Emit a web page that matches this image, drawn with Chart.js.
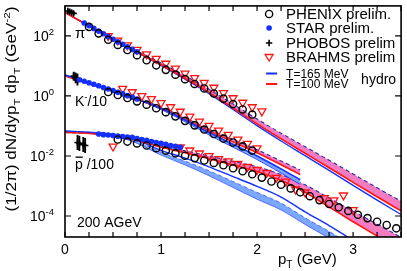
<!DOCTYPE html>
<html>
<head>
<meta charset="utf-8">
<script src="https://cdn.jsdelivr.net/npm/chart.js@4.4.0/dist/chart.umd.min.js"></script>
<style>
  html, body { margin: 0; padding: 0; background: #fff; }
</style>
</head>
<body>
<canvas id="myChart" width="407" height="271"></canvas>
<script>
// all spectra values as log10 of (1/2pi) dN/dy pT dpT
const hydroPt = [0, 0.25, 0.5, 0.75, 1, 1.25, 1.5, 1.75, 2, 2.25, 2.5, 2.75, 3, 3.25, 3.5];
const kaonPt = [0, 0.25, 0.5, 0.75, 1, 1.25, 1.5, 1.75, 2, 2.25, 2.45];
const pbar165Pt = [0, 0.25, 0.5, 0.75, 1, 1.25, 1.5, 1.75, 2, 2.25, 2.5, 2.75, 3];

const piT100 = [2.78, 2.33, 1.88, 1.46, 1.04, 0.59, 0.12, -0.40, -0.93, -1.43, -1.91, -2.39, -2.88, -3.36, -3.83];
const piT100Up = [2.78, 2.34, 1.90, 1.50, 1.10, 0.67, 0.22, -0.27, -0.77, -1.24, -1.69, -2.14, -2.60, -3.06, -3.51];
const piT165 = [2.78, 2.33, 1.88, 1.45, 1.02, 0.56, 0.08, -0.45, -0.99, -1.50, -1.99, -2.48, -2.98, -3.47, -3.95];

const kT165 = [0.70, 0.44, 0.18, -0.10, -0.41, -0.80, -1.22, -1.61, -2.00, -2.43, -2.79];
const kT165Low = [0.70, 0.44, 0.17, -0.12, -0.45, -0.86, -1.30, -1.71, -2.12, -2.57, -2.95];
const kT100 = [0.67, 0.41, 0.16, -0.11, -0.41, -0.78, -1.17, -1.53, -1.89, -2.29, -2.62];
const kT100Up = [0.67, 0.42, 0.18, -0.08, -0.37, -0.73, -1.11, -1.45, -1.79, -2.17, -2.47];

const pT100 = [-1.22, -1.25, -1.34, -1.48, -1.71, -1.89, -2.09, -2.30, -2.52, -2.82, -3.21, -3.70, -4.19, -4.67, -5.16];
const pT100Up = [-1.22, -1.25, -1.33, -1.46, -1.67, -1.83, -2.00, -2.18, -2.36, -2.62, -2.96, -3.40, -3.84, -4.27, -4.71];
const pT165 = [-1.17, -1.21, -1.29, -1.48, -1.81, -2.07, -2.36, -2.69, -3.01, -3.37, -3.86, -4.32, -4.81];
const pT165BandTop = [-1.17, -1.21, -1.29, -1.52, -1.87, -2.17, -2.49, -2.85, -3.21, -3.57, -4.06, -4.51, -5.00];
const pT165BandLow = [-1.17, -1.21, -1.32, -1.58, -1.97, -2.30, -2.66, -3.05, -3.44, -3.80, -4.28, -4.74, -5.23];

// PHENIX
const phenixPiPt = [0.25, 0.35, 0.45, 0.55, 0.65, 0.75, 0.85, 0.95, 1.05, 1.15, 1.25, 1.35, 1.45, 1.55, 1.65, 1.75, 1.85, 1.95];
const phenixPi = [2.30, 2.085, 1.87, 1.70, 1.53, 1.36, 1.19, 1.02, 0.87, 0.71, 0.56, 0.40, 0.25, 0.08, -0.09, -0.27, -0.45, -0.62];
const phenixKPt = [0.45, 0.55, 0.65, 0.75, 0.85, 0.95, 1.05, 1.15, 1.25, 1.35, 1.45, 1.55, 1.65, 1.75, 1.85, 1.95];
const phenixK = [0.13, 0.03, -0.07, -0.18, -0.29, -0.41, -0.54, -0.68, -0.83, -0.98, -1.12, -1.27, -1.42, -1.55, -1.68, -1.82];
const phenixPbarPt = [0.55, 0.65, 0.75, 0.85, 0.95, 1.05, 1.15, 1.25, 1.35, 1.45, 1.55, 1.65, 1.75, 1.85, 1.95,
  2.05, 2.15, 2.25, 2.35, 2.45, 2.55, 2.65, 2.75, 2.85, 2.95, 3.05, 3.15, 3.25, 3.35, 3.45];
const phenixPbar = [-1.45, -1.52, -1.58, -1.65, -1.74, -1.82, -1.91, -1.99, -2.07, -2.15, -2.23, -2.31, -2.41, -2.51, -2.61,
  -2.72, -2.85, -2.96, -3.08, -3.21, -3.34, -3.47, -3.60, -3.71, -3.83, -3.96, -4.07, -4.19, -4.30, -4.41];

// STAR
const starPiPt = [0.2, 0.25, 0.3, 0.35, 0.4, 0.45, 0.5, 0.55, 0.6, 0.65, 0.7, 0.75];
const starPi = [2.43, 2.34, 2.25, 2.16, 2.07, 1.98, 1.89, 1.80, 1.72, 1.64, 1.55, 1.47];
const starKPt = [0.15, 0.2, 0.25, 0.3, 0.35, 0.4, 0.45, 0.5, 0.55, 0.6, 0.65, 0.7, 0.75];
const starK = [0.54, 0.49, 0.44, 0.39, 0.34, 0.28, 0.23, 0.18, 0.12, 0.07, 0.01, -0.04, -0.10];
const starPbarPt = [0.35, 0.4, 0.45, 0.5, 0.55, 0.6, 0.65, 0.7, 0.75, 0.8, 0.85, 0.9, 0.95, 1.0, 1.05, 1.1, 1.15, 1.2];
const starPbar = [-1.27, -1.29, -1.30, -1.32, -1.34, -1.35, -1.37, -1.38, -1.42, -1.45, -1.48, -1.52, -1.55, -1.58, -1.61, -1.65, -1.68, -1.71];

// BRAHMS
const brahmsPiPt = [0.45, 0.55, 0.65, 0.75, 0.85, 0.95, 1.05, 1.15, 1.25, 1.35, 1.45, 1.55, 1.65, 1.75, 1.85, 1.95, 2.05];
const brahmsPi = [2.00, 1.85, 1.69, 1.54, 1.39, 1.24, 1.08, 0.92, 0.75, 0.60, 0.44, 0.28, 0.10, -0.07, -0.22, -0.37, -0.51];
const brahmsKPt = [0.6, 0.7, 0.8, 0.9, 1.0, 1.1, 1.2, 1.3, 1.4, 1.5, 1.6, 1.7, 1.8, 1.9, 2.0];
const brahmsK = [0.24, 0.13, 0.00, -0.10, -0.23, -0.37, -0.52, -0.68, -0.85, -0.99, -1.15, -1.29, -1.45, -1.59, -1.74];
const brahmsPbarPt = [0.5, 1.2, 1.3, 1.4, 1.5, 1.6, 1.7, 1.8, 1.9, 2.0, 2.1, 2.2, 2.3, 2.4, 2.5, 2.7, 2.8, 2.9, 3.0];
const brahmsPbar = [-1.68, -1.71, -1.81, -1.91, -2.00, -2.10, -2.17, -2.26, -2.36, -2.46, -2.56, -2.72, -2.85, -3.11, -3.21, -3.40, -3.47, -3.31, -3.80];

// PHOBOS (value and half error, in decades)
const phobosPt = [0.03, 0.05, 0.07, 0.09, 0.09, 0.11, 0.13, 0.13, 0.15, 0.19, 0.21];
const phobos = [2.83, 2.81, 2.78, 2.75, 0.66, 0.60, 0.55, -1.55, -1.58, -1.62, -1.65];
const phobosErr = [0.06, 0.06, 0.06, 0.06, 0.15, 0.18, 0.20, 0.25, 0.25, 0.25, 0.25];

const yTickVals = [1e-4, 1e-2, 1, 1e2];
const yTickExp = ['-4', '-2', '0', '2'];

const FONT = '"Liberation Sans", Arial, Helvetica, sans-serif';
const RED = '#ff1414', BLUE = '#1430ff', PINK = '#f27cbf', LIGHTBLUE = '#7ba7ff', DASH = '#2b2ba8';

function pts(xs, logs) {
  return xs.map((x, i) => ({ x: x, y: Math.pow(10, logs[i]) }));
}

const datasets = [];
function add(d) { datasets.push(d); return datasets.length - 1; }

// data points
const phenixStyle = { pointStyle: 'circle', pointRadius: 3.6, pointBorderWidth: 1.4, pointBorderColor: '#000', pointBackgroundColor: 'rgba(255,255,255,0)', order: 0 };
const starStyle = { pointStyle: 'circle', pointRadius: 2.8, pointBorderWidth: 0, pointBorderColor: BLUE, pointBackgroundColor: BLUE, order: 0 };
const brahmsStyle = { pointStyle: 'triangle', pointRotation: 180, pointRadius: 4.6, pointBorderWidth: 1.3, pointBorderColor: RED, pointBackgroundColor: 'rgba(255,255,255,0)', order: 0 };

add(Object.assign({ data: pts(phenixPiPt, phenixPi) }, phenixStyle));
add(Object.assign({ data: pts(phenixKPt, phenixK) }, phenixStyle));
add(Object.assign({ data: pts(phenixPbarPt, phenixPbar) }, phenixStyle));
add(Object.assign({ data: pts(starPiPt, starPi) }, starStyle));
add(Object.assign({ data: pts(starKPt, starK) }, starStyle));
add(Object.assign({ data: pts(starPbarPt, starPbar) }, starStyle));
add(Object.assign({ data: pts(brahmsPiPt, brahmsPi) }, brahmsStyle));
add(Object.assign({ data: pts(brahmsKPt, brahmsK) }, brahmsStyle));
add(Object.assign({ data: pts(brahmsPbarPt, brahmsPbar) }, brahmsStyle));

add({ data: pts(phobosPt, phobos), pointStyle: 'cross', pointRadius: 3.2, pointBorderWidth: 1.6, pointBorderColor: '#000', order: 0 });
const phobosBars = [];
phobosPt.forEach((x, i) => {
  phobosBars.push({ x: x, y: Math.pow(10, phobos[i] - phobosErr[i]) });
  phobosBars.push({ x: x, y: Math.pow(10, phobos[i] + phobosErr[i]) });
  phobosBars.push({ x: x, y: null });
});
add({ data: phobosBars, showLine: true, spanGaps: false, pointRadius: 0, borderColor: '#000', borderWidth: 1.8, order: 0 });

// hydro curves
function curve(xs, logs, color, width, order, extra) {
  return add(Object.assign({
    data: pts(xs, logs), showLine: true, pointRadius: 0, borderColor: color, borderWidth: width,
    cubicInterpolationMode: 'monotone', fill: false, order: order
  }, extra || {}));
}

// pions
const piRed = curve(hydroPt, piT100, RED, 1.6, 1);
curve(hydroPt, piT100Up, DASH, 1.1, 2, { borderDash: [4, 3], fill: piRed, backgroundColor: PINK });
curve(hydroPt, piT165, BLUE, 1.4, 1);

// kaons
const kBlue = curve(kaonPt, kT165, BLUE, 1.6, 1);
curve(kaonPt, kT165Low, BLUE, 0.8, 2, { fill: kBlue, backgroundColor: LIGHTBLUE });
const kRed = curve(kaonPt, kT100, RED, 1.6, 1);
curve(kaonPt, kT100Up, DASH, 1.1, 2, { borderDash: [4, 3], fill: kRed, backgroundColor: PINK });

// antiprotons
const pRed = curve(hydroPt, pT100, RED, 1.6, 1);
curve(hydroPt, pT100Up, DASH, 1.1, 2, { borderDash: [4, 3], fill: pRed, backgroundColor: PINK });
curve(pbar165Pt, pT165, BLUE, 1.4, 1);
const pBandLow = curve(pbar165Pt, pT165BandLow, BLUE, 0.6, 2);
curve(pbar165Pt, pT165BandTop, BLUE, 0.6, 2, { borderDash: [4, 3], fill: pBandLow, backgroundColor: LIGHTBLUE });

// text helpers
function rich(ctx, x, y, parts, size) {
  let cx = x;
  parts.forEach(p => {
    const small = p[1] === 'sub' || p[1] === 'sup';
    const s = small ? size * 0.68 : size;
    const dy = p[1] === 'sub' ? size * 0.28 : (p[1] === 'sup' ? -size * 0.42 : 0);
    ctx.font = s + 'px ' + FONT;
    ctx.fillText(p[0], cx, y + dy);
    cx += ctx.measureText(p[0]).width;
  });
  return cx - x;
}
function richWidth(ctx, parts, size) {
  let w = 0;
  parts.forEach(p => {
    const small = p[1] === 'sub' || p[1] === 'sup';
    ctx.font = (small ? size * 0.68 : size) + 'px ' + FONT;
    w += ctx.measureText(p[0]).width;
  });
  return w;
}

const figurePlugin = {
  id: 'figure',
  afterDraw(chart) {
    const ctx = chart.ctx, a = chart.chartArea;
    const xs = chart.scales.x, ys = chart.scales.y;
    ctx.save();
    ctx.strokeStyle = '#000';
    ctx.lineWidth = 1.6;
    ctx.strokeRect(a.left, a.top, a.right - a.left, a.bottom - a.top);

    // inward ticks
    ctx.lineWidth = 1.2;
    ctx.beginPath();
    xs.ticks.forEach(t => {
      const px = xs.getPixelForValue(t.value);
      ctx.moveTo(px, a.bottom); ctx.lineTo(px, a.bottom - 5);
      ctx.moveTo(px, a.top); ctx.lineTo(px, a.top + 5);
    });
    yTickVals.forEach(v => {
      const py = ys.getPixelForValue(v);
      ctx.moveTo(a.left, py); ctx.lineTo(a.left + 6, py);
      ctx.moveTo(a.right, py); ctx.lineTo(a.right - 6, py);
    });
    ctx.stroke();

    ctx.fillStyle = '#000';
    ctx.textBaseline = 'alphabetic';

    // y tick labels 10^n
    yTickVals.forEach((v, i) => {
      const py = ys.getPixelForValue(v);
      const parts = [['10'], [yTickExp[i], 'sup']];
      const w = richWidth(ctx, parts, 14);
      rich(ctx, a.left - 11 - w, py + 5, parts, 14);
    });

    // axis titles
    rich(ctx, a.left + 213, 264, [['p'], ['T', 'sub'], [' (GeV)']], 15);
    const yTitle = [['(1/2\u03c0) dN/dyp'], ['T', 'sub'], [' dp'], ['T', 'sub'], [' (GeV'], ['-2', 'sup'], [')']];
    const tw = richWidth(ctx, yTitle, 14);
    ctx.save();
    ctx.translate(16, 109);
    ctx.rotate(-Math.PI / 2);
    ctx.scale(205 / tw, 1);
    rich(ctx, -tw / 2, 0, yTitle, 14);
    ctx.restore();

    // species labels
    rich(ctx, a.left + 10, 38, [['\u03c0'], ['-', 'sup']], 15);
    rich(ctx, a.left + 10, 106, [['K'], ['-', 'sup'], ['/10']], 14);
    const pw = rich(ctx, a.left + 10, 169, [['p'], [' /100']], 14);
    ctx.font = '14px ' + FONT;
    const pGlyph = ctx.measureText('p').width;
    ctx.fillRect(a.left + 10.5, 156.5, pGlyph - 0.5, 1.3);
    rich(ctx, a.left + 12, 227, [['200 AGeV']], 14);

    // legend
    const mx = a.right - 132, tx = a.right - 115;
    ctx.lineWidth = 1.4;
    ctx.strokeStyle = '#000';
    ctx.beginPath(); ctx.arc(mx, 14, 3.6, 0, Math.PI * 2); ctx.stroke();
    ctx.fillStyle = BLUE;
    ctx.beginPath(); ctx.arc(mx, 28, 2.8, 0, Math.PI * 2); ctx.fill();
    ctx.lineWidth = 1.6;
    ctx.beginPath(); ctx.moveTo(mx - 3.2, 43); ctx.lineTo(mx + 3.2, 43); ctx.moveTo(mx, 39.8); ctx.lineTo(mx, 46.2); ctx.stroke();
    ctx.strokeStyle = RED; ctx.lineWidth = 1.3;
    ctx.beginPath(); ctx.moveTo(mx - 4, 54.5); ctx.lineTo(mx + 4, 54.5); ctx.lineTo(mx, 61); ctx.closePath(); ctx.stroke();
    ctx.lineWidth = 2;
    ctx.strokeStyle = BLUE; ctx.beginPath(); ctx.moveTo(mx - 3, 73.5); ctx.lineTo(mx + 8, 73.5); ctx.stroke();
    ctx.strokeStyle = RED; ctx.beginPath(); ctx.moveTo(mx - 3, 84); ctx.lineTo(mx + 8, 84); ctx.stroke();
    ctx.fillStyle = '#000';
    rich(ctx, tx, 18.5, [['PHENIX prelim.']], 15);
    rich(ctx, tx, 33, [['STAR prelim.']], 15);
    rich(ctx, tx, 47.5, [['PHOBOS prelim']], 15);
    rich(ctx, tx, 62, [['BRAHMS prelim']], 15);
    rich(ctx, tx, 77.5, [['T=165 MeV']], 12);
    rich(ctx, tx, 88, [['T=100 MeV']], 12);
    rich(ctx, a.right - 40, 84, [['hydro']], 14);
    ctx.restore();
  }
};

const ctx = document.getElementById('myChart').getContext('2d');
new Chart(ctx, {
  type: 'scatter',
  data: { datasets: datasets },
  options: {
    responsive: false,
    animation: false,
    layout: { padding: { top: 2, right: 2, left: 0, bottom: 0 } },
    plugins: { legend: { display: false }, tooltip: { enabled: false } },
    scales: {
      x: {
        type: 'linear', min: 0, max: 3.5,
        grid: { display: false, drawTicks: false },
        border: { display: false },
        ticks: {
          stepSize: 0.25, autoSkip: false, maxRotation: 0, padding: 5, color: '#000',
          font: { family: FONT, size: 14 },
          callback: v => (Number.isInteger(v) ? String(v) : '')
        },
        afterFit: s => { s.height = 34; }
      },
      y: {
        type: 'logarithmic', min: 2e-5, max: 1000,
        grid: { display: false, drawTicks: false },
        border: { display: false },
        ticks: { display: false },
        afterBuildTicks: s => { s.ticks = yTickVals.map(v => ({ value: v })); },
        afterFit: s => { s.width = 65; }
      }
    }
  },
  plugins: [figurePlugin]
});
</script>
</body>
</html>
